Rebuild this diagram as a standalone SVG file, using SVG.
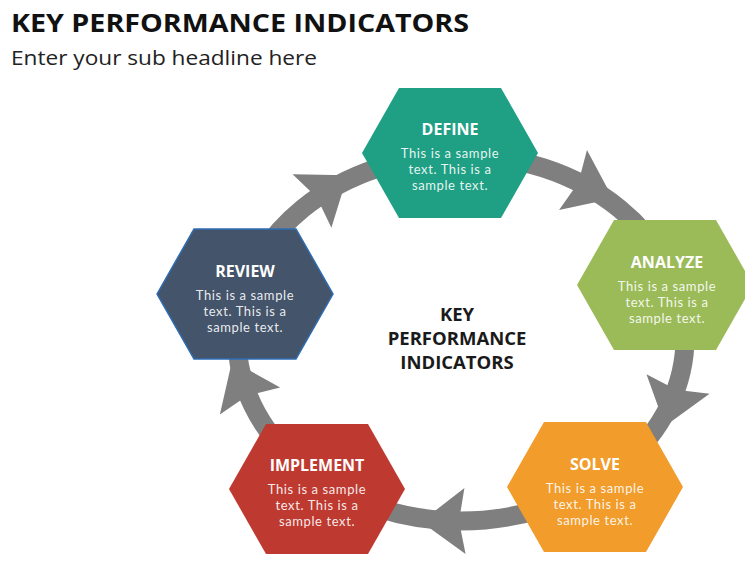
<svg xmlns="http://www.w3.org/2000/svg" xmlns:xlink="http://www.w3.org/1999/xlink" width="745" height="561" viewBox="0 0 745 561">
<style>
.h1{font-family:"Open Sans","Liberation Sans",sans-serif;font-weight:bold;font-size:25px;fill:#111}
.h2{font-family:"Open Sans","Liberation Sans",sans-serif;font-size:20px;fill:#222}
.t{font-family:"Open Sans","Liberation Sans",sans-serif;font-weight:bold;font-size:16px;fill:#fff;text-anchor:middle}
.b{font-family:Lato,"Liberation Sans",sans-serif;font-size:13px;letter-spacing:0.6px;fill:#fff;fill-opacity:0.9;text-anchor:middle}
.c{font-family:"Open Sans","Liberation Sans",sans-serif;font-weight:bold;font-size:18.5px;fill:#1a1a1a;text-anchor:middle}
.ring{fill:none;stroke:#7f7f7f;stroke-width:19}
.ah{fill:#7f7f7f}
</style>
<defs>
<polygon id="hex" points="-88,0 -51,-65 51,-65 88,0 51,65 -51,65"/>
<path id="arrowhead" d="M44,0 L0,-33 L6,0 L0,33 Z"/>
</defs>
<rect width="745" height="561" fill="#fff"/>
<text class="h1" x="11" y="32" textLength="458" lengthAdjust="spacingAndGlyphs">KEY PERFORMANCE INDICATORS</text>
<text class="h2" x="11" y="65" textLength="306" lengthAdjust="spacingAndGlyphs">Enter your sub headline here</text>
<g id="connectors">
<ellipse class="ring" cx="461" cy="338" rx="224" ry="183"/>
<use xlink:href="#arrowhead" class="ah" transform="translate(312,201) rotate(-36)"/>
<use xlink:href="#arrowhead" class="ah" transform="translate(573,180) rotate(25)"/>
<use xlink:href="#arrowhead" class="ah" transform="translate(678,384) rotate(107)"/>
<use xlink:href="#arrowhead" class="ah" transform="translate(465,521) rotate(179)"/>
<use xlink:href="#arrowhead" class="ah" transform="translate(250,401) rotate(-114)"/>
</g>
<g id="define" transform="translate(450,153)">
<use xlink:href="#hex" fill="#1fa085"/>
<text class="t" y="-18">DEFINE</text>
<text class="b" y="5">This is a sample</text>
<text class="b" y="21">text. This is a</text>
<text class="b" y="37">sample text.</text>
</g>
<g id="analyze" transform="translate(665,285)">
<use xlink:href="#hex" fill="#9bbb59"/>
<text class="t" x="2" y="-17">ANALYZE</text>
<text class="b" x="2" y="6">This is a sample</text>
<text class="b" x="2" y="22">text. This is a</text>
<text class="b" x="2" y="38">sample text.</text>
</g>
<g id="review" transform="translate(245,294)">
<use xlink:href="#hex" fill="#44546a" stroke="#2e6db4" stroke-width="1.5"/>
<text class="t" y="-17">REVIEW</text>
<text class="b" y="6">This is a sample</text>
<text class="b" y="22">text. This is a</text>
<text class="b" y="38">sample text.</text>
</g>
<g id="implement" transform="translate(317,489)">
<use xlink:href="#hex" fill="#be3a31"/>
<text class="t" y="-18">IMPLEMENT</text>
<text class="b" y="5">This is a sample</text>
<text class="b" y="21">text. This is a</text>
<text class="b" y="37">sample text.</text>
</g>
<g id="solve" transform="translate(595,487)">
<use xlink:href="#hex" fill="#f19c2b"/>
<text class="t" y="-17">SOLVE</text>
<text class="b" y="6">This is a sample</text>
<text class="b" y="22">text. This is a</text>
<text class="b" y="38">sample text.</text>
</g>
<g id="center">
<text class="c" x="457" y="321">KEY</text>
<text class="c" x="457" y="345">PERFORMANCE</text>
<text class="c" x="457" y="369">INDICATORS</text>
</g>
</svg>
